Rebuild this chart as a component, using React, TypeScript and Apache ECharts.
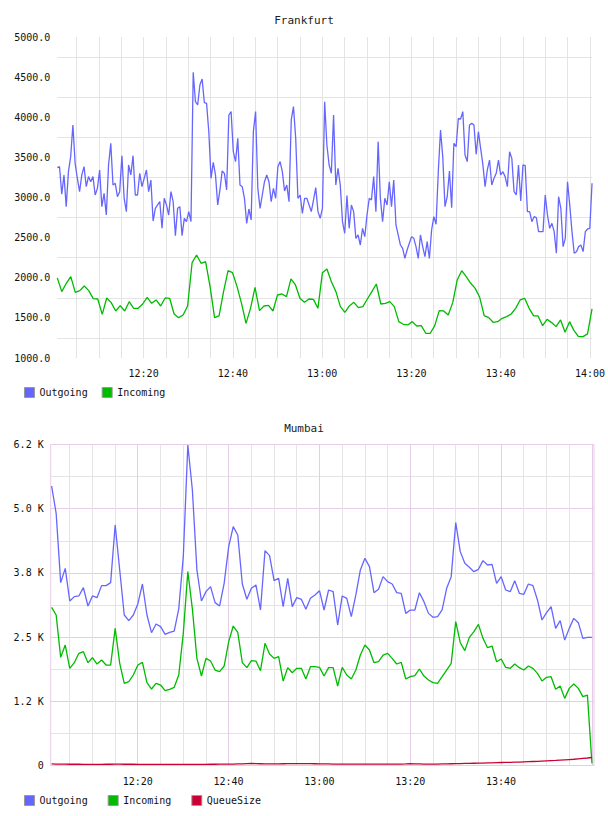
import React, { useEffect, useRef } from 'react';
import * as echarts from 'echarts';

// Frankfurt: outgoing sampled every ~30 s, incoming every ~1 min
const FRANKFURT_OUTGOING = [
  3372, 3384, 3040, 3281, 2886, 3322, 3509, 3903, 3426, 3239,
  3073, 3281, 3384, 3135, 3260, 3197, 3260, 3031, 3114, 3343,
  2886, 3052, 2782, 3405, 3675, 3156, 3177, 3010, 3073, 3521,
  2990, 2824, 3405, 3281, 3521, 3031, 3031, 3301, 3135, 3239,
  3343, 3073, 3218, 2707, 2865, 2907, 2948, 2616, 2990, 2907,
  2782, 3073, 2948, 2525, 2865, 2886, 2525, 2741, 2699, 2824,
  2700,
  4560, 4194, 4153, 4402, 4477, 4182, 4173, 3820, 3239,
  3438, 3281, 2907, 3094, 3330, 3301, 3094, 4028, 4070, 3571,
  3447, 3737, 3156, 3135, 2990, 2678, 2857, 2720, 3820, 4070,
  3114, 2865, 3031, 3197, 3281, 3197, 2948, 3114, 2990, 3384,
  3447, 3322, 3081, 3156, 2948, 3966, 4132, 3737, 2990, 3031,
  2803, 2990, 2990, 2907, 2824, 2969, 3123, 2824, 2741, 2865,
  4194,
  3654, 3405, 3301, 4028, 3156, 3364, 3156, 2699, 2554,
  3023, 2616, 2907, 2824, 2491, 2533, 2408, 2616, 2512, 2782,
  2990, 2969, 3260, 2824, 3696, 2990, 2699, 2990, 2907, 3197,
  2886, 3218, 2658, 2533, 2408, 2367, 2242, 2346, 2429, 2512,
  2491, 2388, 2242, 2533, 2388, 2263, 2450, 2242, 2595, 2761,
  2666, 3322, 3841, 3509, 2886, 3010, 3330, 2873, 3675, 3634,
  3987,
  3978, 4070, 3530, 3447, 3903, 3924, 3903, 3538, 3820,
  3613, 3413, 3135, 3343, 3467, 3156, 3239, 3301, 3467, 3281,
  3322, 3260, 3135, 3571, 3488, 3073, 3031, 3405, 2957, 3405,
  3397, 2824, 2824, 2699, 2761, 2749, 2575, 2575, 2575, 3031,
  2782, 2616, 2678, 2575, 2305, 3010, 2865, 2388, 2491, 3197,
  2907, 2575, 2305, 2325, 2388, 2408, 2325, 2575, 2608, 2616,
  3177,
];

const FRANKFURT_INCOMING = [
  1999, 1827, 1931, 2014, 1818, 1839, 1897, 1839, 1740, 1735,
  1544, 1748, 1690, 1586, 1652, 1586, 1702, 1619, 1619, 1673,
  1756, 1681, 1723, 1648, 1748, 1744, 1548, 1503, 1536, 1648,
  2188, 2284, 2180, 2201, 1889, 1503, 1524, 1827, 2088, 2063,
  1889, 1681, 1432, 1619, 1881, 1590, 1648, 1656, 1586, 1785,
  1798, 1765, 1985, 1910, 1744,
  1694, 1735, 1731, 1619, 2063, 2109, 1951, 1827, 1640, 1569,
  1648, 1694, 1627, 1640, 1735, 1827, 1922, 1673, 1681, 1702,
  1640, 1453, 1420, 1412, 1453, 1399, 1403, 1308, 1308, 1403,
  1590, 1586, 1536, 1690, 1972, 2088, 2014, 1931, 1868, 1756,
  1528, 1503, 1445, 1453, 1495, 1515, 1548, 1619, 1723, 1744,
  1619, 1524, 1524, 1403, 1482, 1441, 1391, 1474, 1320, 1453,
  1341, 1266, 1266, 1300, 1611,
];

// Mumbai: one sample per minute
const MUMBAI_OUTGOING = [
  5442, 4910, 3560, 3839, 3203, 3288, 3301, 3463, 3106, 3301,
  3268, 3502, 3502, 3560, 4683, 3807, 2930, 2820, 2930, 3150,
  3534, 2930, 2586, 2755, 2703, 2554, 2592, 2618, 3050, 4066,
  6241, 5364, 3807, 3203, 3385, 3482, 3171, 3106, 3547, 4261,
  4650, 4488, 3534, 3236, 3450, 3515, 3028, 4183, 4086, 3599,
  3645, 3093, 3645, 3093, 3268, 3236, 3041, 3255,
  3320, 3404, 3028, 3417, 3385, 2735, 3301, 3255, 2898, 3320,
  3807, 4034, 3872, 3365, 3430, 3677, 3580, 3534, 3365, 3352,
  2962, 3027, 3027, 3365, 3190, 2962, 2885, 2898, 3028, 3450,
  3677, 4728, 4164, 3937, 3859, 3774, 3820, 3989, 3904, 3917,
  3547, 3677, 3417, 3385, 3599, 3352, 3333, 3534, 3502, 3223,
  2833, 2975, 3092, 2670, 2820, 2443, 2670, 2865, 2781, 2476,
  2495, 2495,
];

const MUMBAI_INCOMING = [
  3079, 2930, 2106, 2346, 1892, 2002, 2184, 2216, 2002, 2099,
  1976, 2054, 1956, 1956, 2670, 1989, 1600, 1632, 1762, 1956,
  2008, 1613, 1489, 1600, 1567, 1457, 1483, 1522, 1762, 2573,
  3774, 3050, 2086, 1742, 2086, 2034, 1859, 1827, 1937, 2411,
  2716, 2592, 2002, 1905, 2041, 2034, 1846, 2378, 2171, 2086,
  2119, 1645, 1905, 1807, 1892, 1892, 1684, 1924,
  1924, 1911, 1742, 1905, 1905, 1548, 1911, 1762, 1684, 1859,
  2151, 2346, 2249, 2002, 2021, 2151, 2184, 2086, 1976, 2008,
  1684, 1729, 1749, 1879, 1742, 1664, 1613, 1600, 1729, 1859,
  1989, 2800, 2391, 2236, 2495, 2605, 2748, 2476, 2294, 2326,
  2021, 2073, 1911, 1892, 1976, 1905, 1859, 1937, 1892, 1794,
  1645, 1716, 1729, 1483, 1548, 1307, 1502, 1587, 1502, 1340,
  1372, 42,
];

const MUMBAI_QUEUE = [
  30, 28, 26, 25, 24, 24, 24, 23, 23, 23,
  23, 23, 24, 24, 25, 25, 24, 24, 24, 23,
  23, 23, 23, 23, 23, 23, 22, 22, 22, 22,
  22, 23, 23, 23, 23, 24, 24, 25, 26, 27,
  28, 30, 32, 36, 40, 38, 34, 30, 30, 31,
  32, 34, 36, 38, 38, 37, 36, 35, 34, 33,
  32, 30, 28, 27, 26, 26, 26, 26, 26, 27,
  27, 27, 28, 28, 28, 28, 28, 28, 30, 34,
  32, 30, 28, 28, 28, 28, 30, 32, 34, 36,
  38, 40, 42, 44, 46, 48, 50, 52, 55, 58,
  60, 62, 64, 66, 70, 74, 78, 82, 86, 90,
  94, 98, 104, 110, 116, 122, 130, 138, 146, 156,
];

const FRANKFURT_Y_LABELS = ['1000.0', '1500.0', '2000.0', '2500.0', '3000.0', '3500.0', '4000.0', '4500.0', '5000.0'];
const MUMBAI_Y_LABELS = ['0', '1.2 K', '2.5 K', '3.8 K', '5.0 K', '6.2 K'];
const FRANKFURT_X_LABELS = ['12:20', '12:40', '13:00', '13:20', '13:40', '14:00'];
const MUMBAI_X_LABELS = ['12:20', '12:40', '13:00', '13:20', '13:40'];

const FONT = 'DejaVu Sans Mono';
const BLUE = '#6666ff';
const GREEN = '#00bb00';
const RED = '#cc0033';
const GRID_GRAY = '#e4e4e4';
const GRID_PINK = '#e6cce6';

const T = (h: number, m: number, s: number) => new Date(2024, 0, 15, h, m, s).getTime();

const FRA_AXIS_MIN = T(12, 0, 40);
const FRA_AXIS_MAX = T(14, 0, 31);
const FRA_FIRST = T(12, 0, 40);
const FRA_LAST = T(14, 0, 28);

const MUM_AXIS_MIN = T(12, 0, 50);
const MUM_AXIS_MAX = T(14, 0, 29);
const MUM_FIRST = T(12, 1, 2);
const MINUTE = 60000;

// evenly spaced timestamps between the first and last sample
const spread = (first: number, last: number, values: number[]) =>
  values.map((v, i) => [first + ((last - first) * i) / (values.length - 1), v]);

const everyMinute = (first: number, values: number[]) => values.map((v, i) => [first + i * MINUTE, v]);

const pad = (n: number) => (n < 10 ? '0' + n : '' + n);
const timeFormatter = (labels: string[]) => (value: number) => {
  const d = new Date(value);
  const s = pad(d.getHours()) + ':' + pad(d.getMinutes());
  return d.getSeconds() === 0 && labels.includes(s) ? s : '';
};

const timeAxis = (gridIndex: number, min: number, max: number, labels: string[], colors: string[], margin: number) => ({
  type: 'time',
  gridIndex,
  min,
  max,
  splitNumber: 20,
  minInterval: 6 * MINUTE,
  maxInterval: 6 * MINUTE,
  axisLine: { show: false },
  axisTick: { show: false },
  axisLabel: {
    formatter: timeFormatter(labels),
    color: '#111',
    fontSize: 10,
    fontFamily: FONT,
    margin,
    showMinLabel: false,
    showMaxLabel: false,
  },
  splitLine: {
    show: true,
    showMinLine: false,
    showMaxLine: false,
    lineStyle: { color: colors, width: 1 },
  },
});

const lineSeries = (name: string, color: string, data: number[][], axis: number, width = 1.3) => ({
  name,
  type: 'line',
  xAxisIndex: axis,
  yAxisIndex: axis,
  data,
  symbol: 'none',
  showSymbol: false,
  lineStyle: { color, width },
  itemStyle: { color },
  emphasis: { disabled: true },
});

const legend = (names: string[], top: number, gap: number) => ({
  data: names,
  left: 24,
  top,
  padding: 0,
  itemGap: gap,
  itemWidth: 10,
  itemHeight: 10,
  icon: 'rect',
  itemStyle: { borderColor: '#999', borderWidth: 1 },
  textStyle: { fontFamily: FONT, fontSize: 10, color: '#111', padding: [0, 0, 0, 0] },
});

const option = {
  animation: false,
  textStyle: { fontFamily: FONT },
  title: [
    { text: 'Frankfurt', left: 'center', top: 15, padding: 0, textStyle: { fontFamily: FONT, fontSize: 11, fontWeight: 'normal', color: '#222' } },
    { text: 'Mumbai', left: 'center', top: 423, padding: 0, textStyle: { fontFamily: FONT, fontSize: 11, fontWeight: 'normal', color: '#222' } },
  ],
  legend: [
    legend(['Outgoing', 'Incoming'], 387, 14),
    legend(['Outgoing', 'Incoming', 'QueueSize'], 795, 20),
  ],
  grid: [
    { left: 57.3, top: 37, width: 535.7, height: 321, show: false },
    { left: 50.7, top: 444.5, width: 543.3, height: 321, show: true, borderColor: GRID_PINK, borderWidth: 1, backgroundColor: 'transparent' },
  ],
  xAxis: [
    timeAxis(0, FRA_AXIS_MIN, FRA_AXIS_MAX, FRANKFURT_X_LABELS, [GRID_GRAY], 10),
    timeAxis(1, MUM_AXIS_MIN, MUM_AXIS_MAX, MUMBAI_X_LABELS, [GRID_GRAY, GRID_GRAY, GRID_GRAY, GRID_PINK], 11),
  ],
  yAxis: [
    {
      type: 'value',
      gridIndex: 0,
      min: 1000,
      max: 5000,
      interval: 250,
      axisLine: { show: false },
      axisTick: { show: false },
      axisLabel: {
        formatter: (v: number) => ((v - 1000) % 500 === 0 ? FRANKFURT_Y_LABELS[(v - 1000) / 500] : ''),
        color: '#111',
        fontSize: 10,
        fontFamily: FONT,
        margin: 7,
      },
      splitLine: { show: true, lineStyle: { color: ['rgba(0,0,0,0)', GRID_GRAY], width: 1 } },
    },
    {
      type: 'value',
      gridIndex: 1,
      min: 0,
      max: 6250,
      interval: 625,
      axisLine: { show: false },
      axisTick: { show: false },
      axisLabel: {
        formatter: (v: number) => (v % 1250 === 0 ? MUMBAI_Y_LABELS[v / 1250] : ''),
        color: '#111',
        fontSize: 10,
        fontFamily: FONT,
        margin: 7,
      },
      splitLine: { show: true, lineStyle: { color: [GRID_PINK, GRID_GRAY], width: 1 } },
    },
  ],
  series: [
    lineSeries('Outgoing', BLUE, spread(FRA_FIRST, FRA_LAST, FRANKFURT_OUTGOING), 0),
    lineSeries('Incoming', GREEN, spread(FRA_FIRST, FRA_LAST, FRANKFURT_INCOMING), 0),
    lineSeries('Outgoing', BLUE, everyMinute(MUM_FIRST, MUMBAI_OUTGOING), 1),
    lineSeries('Incoming', GREEN, everyMinute(MUM_FIRST, MUMBAI_INCOMING), 1),
    lineSeries('QueueSize', RED, everyMinute(MUM_FIRST, MUMBAI_QUEUE), 1),
  ],
};

export default function App() {
  const ref = useRef<HTMLDivElement>(null);
  useEffect(() => {
    if (!ref.current) return;
    const chart = echarts.init(ref.current, null, { renderer: 'svg' });
    chart.setOption(option as any);
    return () => chart.dispose();
  }, []);
  return (
    <div
      ref={ref}
      style={{ position: 'absolute', left: 0, top: 0, width: 608, height: 816, background: '#fff' }}
    />
  );
}
